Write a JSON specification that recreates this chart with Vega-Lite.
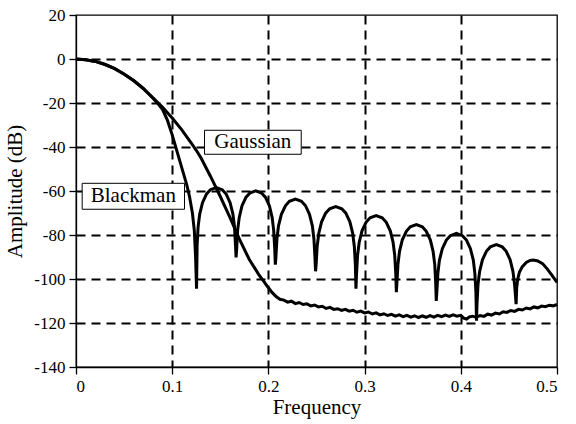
{
"$schema": "https://vega.github.io/schema/vega-lite/v6.json",
"width": 481, "height": 352,
"autosize": {"type": "none"},
"padding": {"left": 76, "top": 15, "right": 19, "bottom": 57},
"background": "white",
"config": {
  "font": "'Liberation Serif', 'Times New Roman', Times, 'DejaVu Serif', serif",
  "view": {"stroke": "black", "strokeWidth": 1.3},
  "axis": {
    "labelFont": "'Liberation Serif', 'Times New Roman', Times, 'DejaVu Serif', serif", "labelFontSize": 17, "labelColor": "black",
    "titleFont": "'Liberation Serif', 'Times New Roman', Times, 'DejaVu Serif', serif", "titleFontSize": 21, "titleFontWeight": "normal", "titleColor": "black",
    "tickColor": "black", "tickSize": 7, "tickWidth": 1.3,
    "domainColor": "black", "domainWidth": 1.3,
    "grid": true, "gridColor": "black", "gridWidth": 2, "gridDash": [9, 6],
    "labelExpr": "toString(datum.value)"
  }
},
"datasets": {
  "curves": [
    {"s":"Gaussian","f":0,"db":0},{"s":"Gaussian","f":0.01,"db":-0.3},{"s":"Gaussian","f":0.02,"db":-1.1},{"s":"Gaussian","f":0.03,"db":-2.5},{"s":"Gaussian","f":0.04,"db":-4.4},{"s":"Gaussian","f":0.05,"db":-6.9},{"s":"Gaussian","f":0.06,"db":-9.9},{"s":"Gaussian","f":0.07,"db":-13.5},{"s":"Gaussian","f":0.08,"db":-17.6},{"s":"Gaussian","f":0.085,"db":-19.8},{"s":"Gaussian","f":0.09,"db":-22},{"s":"Gaussian","f":0.1,"db":-26.8},{"s":"Gaussian","f":0.11,"db":-32.2},{"s":"Gaussian","f":0.12,"db":-38.3},{"s":"Gaussian","f":0.125,"db":-41.5},{"s":"Gaussian","f":0.13,"db":-45},{"s":"Gaussian","f":0.14,"db":-53.5},{"s":"Gaussian","f":0.15,"db":-62.5},{"s":"Gaussian","f":0.16,"db":-72},{"s":"Gaussian","f":0.17,"db":-82},{"s":"Gaussian","f":0.18,"db":-91},{"s":"Gaussian","f":0.19,"db":-98},{"s":"Gaussian","f":0.195,"db":-101},{"s":"Gaussian","f":0.2,"db":-104},{"s":"Gaussian","f":0.204,"db":-106.2},{"s":"Gaussian","f":0.208,"db":-108},
    {"s":"Gaussian","f":0.212,"db":-109.2},{"s":"Gaussian","f":0.216,"db":-109.6},{"s":"Gaussian","f":0.22,"db":-110.5},{"s":"Gaussian","f":0.224,"db":-110.1},{"s":"Gaussian","f":0.228,"db":-111.2},{"s":"Gaussian","f":0.232,"db":-110.7},{"s":"Gaussian","f":0.236,"db":-111.6},{"s":"Gaussian","f":0.24,"db":-111.3},{"s":"Gaussian","f":0.244,"db":-112.2},{"s":"Gaussian","f":0.248,"db":-111.8},{"s":"Gaussian","f":0.252,"db":-112.7},{"s":"Gaussian","f":0.256,"db":-112.4},{"s":"Gaussian","f":0.26,"db":-113.4},{"s":"Gaussian","f":0.264,"db":-112.9},{"s":"Gaussian","f":0.268,"db":-113.8},{"s":"Gaussian","f":0.272,"db":-113.5},{"s":"Gaussian","f":0.276,"db":-114.3},{"s":"Gaussian","f":0.28,"db":-113.8},{"s":"Gaussian","f":0.284,"db":-114.6},{"s":"Gaussian","f":0.288,"db":-114.2},{"s":"Gaussian","f":0.292,"db":-115.1},{"s":"Gaussian","f":0.296,"db":-114.6},{"s":"Gaussian","f":0.3,"db":-115.4},{"s":"Gaussian","f":0.304,"db":-115},{"s":"Gaussian","f":0.308,"db":-115.9},{"s":"Gaussian","f":0.312,"db":-115.4},{"s":"Gaussian","f":0.316,"db":-116.3},{"s":"Gaussian","f":0.32,"db":-115.8},{"s":"Gaussian","f":0.324,"db":-116.6},{"s":"Gaussian","f":0.328,"db":-116.1},{"s":"Gaussian","f":0.332,"db":-116.9},{"s":"Gaussian","f":0.336,"db":-116.3},{"s":"Gaussian","f":0.34,"db":-117.1},{"s":"Gaussian","f":0.344,"db":-116.5},{"s":"Gaussian","f":0.348,"db":-117.3},{"s":"Gaussian","f":0.352,"db":-116.7},{"s":"Gaussian","f":0.356,"db":-117.5},{"s":"Gaussian","f":0.36,"db":-116.8},{"s":"Gaussian","f":0.364,"db":-117.4},{"s":"Gaussian","f":0.368,"db":-116.6},{"s":"Gaussian","f":0.372,"db":-117.3},{"s":"Gaussian","f":0.376,"db":-116.5},{"s":"Gaussian","f":0.38,"db":-117.1},{"s":"Gaussian","f":0.384,"db":-116.4},{"s":"Gaussian","f":0.388,"db":-117},{"s":"Gaussian","f":0.392,"db":-116.3},{"s":"Gaussian","f":0.396,"db":-116.9},{"s":"Gaussian","f":0.4,"db":-116.5},{"s":"Gaussian","f":0.403,"db":-117.8},{"s":"Gaussian","f":0.406,"db":-118.2},{"s":"Gaussian","f":0.409,"db":-117.2},{"s":"Gaussian","f":0.412,"db":-116.9},{"s":"Gaussian","f":0.416,"db":-117.4},{"s":"Gaussian","f":0.42,"db":-116.6},{"s":"Gaussian","f":0.424,"db":-117},{"s":"Gaussian","f":0.428,"db":-116},{"s":"Gaussian","f":0.432,"db":-116.4},{"s":"Gaussian","f":0.436,"db":-115.5},{"s":"Gaussian","f":0.44,"db":-115.9},{"s":"Gaussian","f":0.444,"db":-114.9},{"s":"Gaussian","f":0.448,"db":-115.2},{"s":"Gaussian","f":0.452,"db":-114.3},{"s":"Gaussian","f":0.456,"db":-114.7},{"s":"Gaussian","f":0.46,"db":-113.8},{"s":"Gaussian","f":0.464,"db":-114.1},{"s":"Gaussian","f":0.468,"db":-113.2},{"s":"Gaussian","f":0.472,"db":-113.6},{"s":"Gaussian","f":0.476,"db":-112.7},{"s":"Gaussian","f":0.48,"db":-113.1},{"s":"Gaussian","f":0.484,"db":-112.3},{"s":"Gaussian","f":0.488,"db":-112.6},{"s":"Gaussian","f":0.492,"db":-111.9},{"s":"Gaussian","f":0.496,"db":-112.2},{"s":"Gaussian","f":0.5,"db":-111.6},
    {"s":"Blackman","f":0,"db":0},{"s":"Blackman","f":0.01,"db":-0.3},{"s":"Blackman","f":0.02,"db":-1.1},{"s":"Blackman","f":0.03,"db":-2.4},{"s":"Blackman","f":0.04,"db":-4.3},{"s":"Blackman","f":0.05,"db":-6.8},{"s":"Blackman","f":0.06,"db":-9.8},{"s":"Blackman","f":0.07,"db":-13.4},{"s":"Blackman","f":0.08,"db":-17.8},{"s":"Blackman","f":0.085,"db":-20.2},{"s":"Blackman","f":0.09,"db":-23},{"s":"Blackman","f":0.095,"db":-27.8},{"s":"Blackman","f":0.1,"db":-34.5},{"s":"Blackman","f":0.105,"db":-42},{"s":"Blackman","f":0.11,"db":-49.5},{"s":"Blackman","f":0.115,"db":-57},{"s":"Blackman","f":0.118,"db":-62.5},{"s":"Blackman","f":0.121,"db":-70},{"s":"Blackman","f":0.123,"db":-78},{"s":"Blackman","f":0.1243,"db":-90},{"s":"Blackman","f":0.1253,"db":-104.4},
    {"s":"Blackman","f":0.1259,"db":-84.9},{"s":"Blackman","f":0.1269,"db":-76.4},{"s":"Blackman","f":0.1286,"db":-70.5},{"s":"Blackman","f":0.1315,"db":-65.3},{"s":"Blackman","f":0.1356,"db":-61.4},{"s":"Blackman","f":0.1397,"db":-59.4},{"s":"Blackman","f":0.1459,"db":-58.4},{"s":"Blackman","f":0.152,"db":-59.4},{"s":"Blackman","f":0.1561,"db":-61.4},{"s":"Blackman","f":0.1602,"db":-65.3},{"s":"Blackman","f":0.1631,"db":-70.5},{"s":"Blackman","f":0.1648,"db":-76.4},{"s":"Blackman","f":0.1658,"db":-84.9},{"s":"Blackman","f":0.1664,"db":-90.2},
    {"s":"Blackman","f":0.167,"db":-86.4},{"s":"Blackman","f":0.168,"db":-77.9},{"s":"Blackman","f":0.1697,"db":-72},{"s":"Blackman","f":0.1725,"db":-66.8},{"s":"Blackman","f":0.1766,"db":-62.9},{"s":"Blackman","f":0.1807,"db":-60.9},{"s":"Blackman","f":0.1868,"db":-59.9},{"s":"Blackman","f":0.1929,"db":-60.9},{"s":"Blackman","f":0.197,"db":-62.9},{"s":"Blackman","f":0.2011,"db":-66.8},{"s":"Blackman","f":0.2039,"db":-72},{"s":"Blackman","f":0.2055,"db":-77.9},{"s":"Blackman","f":0.2066,"db":-86.4},{"s":"Blackman","f":0.2072,"db":-93.5},
    {"s":"Blackman","f":0.2078,"db":-90.2},{"s":"Blackman","f":0.2089,"db":-81.7},{"s":"Blackman","f":0.2105,"db":-75.8},{"s":"Blackman","f":0.2135,"db":-70.6},{"s":"Blackman","f":0.2177,"db":-66.7},{"s":"Blackman","f":0.2218,"db":-64.7},{"s":"Blackman","f":0.2281,"db":-63.7},{"s":"Blackman","f":0.2344,"db":-64.7},{"s":"Blackman","f":0.2386,"db":-66.7},{"s":"Blackman","f":0.2427,"db":-70.6},{"s":"Blackman","f":0.2457,"db":-75.8},{"s":"Blackman","f":0.2473,"db":-81.7},{"s":"Blackman","f":0.2484,"db":-90.2},{"s":"Blackman","f":0.249,"db":-96.5},
    {"s":"Blackman","f":0.2496,"db":-93.6},{"s":"Blackman","f":0.2507,"db":-85.1},{"s":"Blackman","f":0.2524,"db":-79.2},{"s":"Blackman","f":0.2553,"db":-74},{"s":"Blackman","f":0.2595,"db":-70.1},{"s":"Blackman","f":0.2637,"db":-68.1},{"s":"Blackman","f":0.27,"db":-67.1},{"s":"Blackman","f":0.2763,"db":-68.1},{"s":"Blackman","f":0.2805,"db":-70.1},{"s":"Blackman","f":0.2847,"db":-74},{"s":"Blackman","f":0.2876,"db":-79.2},{"s":"Blackman","f":0.2893,"db":-85.1},{"s":"Blackman","f":0.2904,"db":-93.6},{"s":"Blackman","f":0.291,"db":-104.4},
    {"s":"Blackman","f":0.2916,"db":-97.7},{"s":"Blackman","f":0.2927,"db":-89.2},{"s":"Blackman","f":0.2944,"db":-83.3},{"s":"Blackman","f":0.2973,"db":-78.1},{"s":"Blackman","f":0.3015,"db":-74.2},{"s":"Blackman","f":0.3057,"db":-72.2},{"s":"Blackman","f":0.312,"db":-71.2},{"s":"Blackman","f":0.3183,"db":-72.2},{"s":"Blackman","f":0.3225,"db":-74.2},{"s":"Blackman","f":0.3267,"db":-78.1},{"s":"Blackman","f":0.3296,"db":-83.3},{"s":"Blackman","f":0.3313,"db":-89.2},{"s":"Blackman","f":0.3324,"db":-97.7},{"s":"Blackman","f":0.333,"db":-106},
    {"s":"Blackman","f":0.3336,"db":-101.8},{"s":"Blackman","f":0.3347,"db":-93.3},{"s":"Blackman","f":0.3363,"db":-87.4},{"s":"Blackman","f":0.3392,"db":-82.2},{"s":"Blackman","f":0.3434,"db":-78.3},{"s":"Blackman","f":0.3475,"db":-76.3},{"s":"Blackman","f":0.3538,"db":-75.3},{"s":"Blackman","f":0.36,"db":-76.3},{"s":"Blackman","f":0.3641,"db":-78.3},{"s":"Blackman","f":0.3683,"db":-82.2},{"s":"Blackman","f":0.3712,"db":-87.4},{"s":"Blackman","f":0.3729,"db":-93.3},{"s":"Blackman","f":0.3739,"db":-101.8},{"s":"Blackman","f":0.3745,"db":-110},
    {"s":"Blackman","f":0.3751,"db":-105.8},{"s":"Blackman","f":0.3762,"db":-97.3},{"s":"Blackman","f":0.3778,"db":-91.4},{"s":"Blackman","f":0.3808,"db":-86.2},{"s":"Blackman","f":0.385,"db":-82.3},{"s":"Blackman","f":0.3891,"db":-80.3},{"s":"Blackman","f":0.3954,"db":-79.3},{"s":"Blackman","f":0.4017,"db":-80.3},{"s":"Blackman","f":0.4059,"db":-82.3},{"s":"Blackman","f":0.41,"db":-86.2},{"s":"Blackman","f":0.413,"db":-91.4},{"s":"Blackman","f":0.4146,"db":-97.3},{"s":"Blackman","f":0.4157,"db":-105.8},{"s":"Blackman","f":0.4163,"db":-119},
    {"s":"Blackman","f":0.4169,"db":-110.9},{"s":"Blackman","f":0.4179,"db":-102.4},{"s":"Blackman","f":0.4196,"db":-96.5},{"s":"Blackman","f":0.4225,"db":-91.3},{"s":"Blackman","f":0.4266,"db":-87.4},{"s":"Blackman","f":0.4307,"db":-85.4},{"s":"Blackman","f":0.4369,"db":-84.4},{"s":"Blackman","f":0.4431,"db":-85.4},{"s":"Blackman","f":0.4472,"db":-87.4},{"s":"Blackman","f":0.4513,"db":-91.3},{"s":"Blackman","f":0.4542,"db":-96.5},{"s":"Blackman","f":0.4559,"db":-102.4},{"s":"Blackman","f":0.4569,"db":-108},{"s":"Blackman","f":0.4575,"db":-111.4},
    {"s":"Blackman","f":0.4581,"db":-104},{"s":"Blackman","f":0.4592,"db":-100},{"s":"Blackman","f":0.4609,"db":-97},{"s":"Blackman","f":0.4638,"db":-94.5},{"s":"Blackman","f":0.468,"db":-92.5},{"s":"Blackman","f":0.472,"db":-91.6},{"s":"Blackman","f":0.4755,"db":-91.4},{"s":"Blackman","f":0.48,"db":-91.8},{"s":"Blackman","f":0.485,"db":-93},{"s":"Blackman","f":0.49,"db":-95.5},{"s":"Blackman","f":0.495,"db":-98.5},{"s":"Blackman","f":0.5,"db":-101.5}
  ],
  "labels": [
    {"label":"Gaussian","x1":0.1336,"x2":0.2341,"y1":-32.4,"y2":-43.3,"cx":0.1838,"cy":-37.9},
    {"label":"Blackman","x1":0.0064,"x2":0.1128,"y1":-56.5,"y2":-68.3,"cx":0.0596,"cy":-62.4}
  ]
},
"layer": [
  {
    "data": {"name": "curves"},
    "mark": {"type": "line", "color": "black", "strokeWidth": 3, "strokeJoin": "miter", "strokeMiterLimit": 3},
    "encoding": {
      "x": {"field": "f", "type": "quantitative", "scale": {"domain": [0, 0.5], "nice": false},
            "axis": {"values": [0, 0.1, 0.2, 0.3, 0.4, 0.5], "title": "Frequency", "labelPadding": 4, "titlePadding": 2,
                     "gridOpacity": {"condition": {"test": "datum.value <= 0 || datum.value >= 0.5", "value": 0}, "value": 1}}},
      "y": {"field": "db", "type": "quantitative", "scale": {"domain": [-140, 20], "nice": false},
            "axis": {"values": [-140, -120, -100, -80, -60, -40, -20, 0, 20], "title": "Amplitude (dB)", "labelPadding": 4, "titlePadding": 8,
                     "gridOpacity": {"condition": {"test": "datum.value <= -140 || datum.value >= 20", "value": 0}, "value": 1}}},
      "detail": {"field": "s"}
    }
  },
  {
    "data": {"name": "labels"},
    "mark": {"type": "rect", "fill": "white", "stroke": "black", "strokeWidth": 1},
    "encoding": {
      "x": {"field": "x1", "type": "quantitative"}, "x2": {"field": "x2"},
      "y": {"field": "y1", "type": "quantitative"}, "y2": {"field": "y2"}
    }
  },
  {
    "data": {"name": "labels"},
    "mark": {"type": "text", "font": "'Liberation Serif', 'Times New Roman', Times, 'DejaVu Serif', serif", "fontSize": 21, "color": "black", "baseline": "middle"},
    "encoding": {
      "x": {"field": "cx", "type": "quantitative"},
      "y": {"field": "cy", "type": "quantitative"},
      "text": {"field": "label"}
    }
  }
]
}
